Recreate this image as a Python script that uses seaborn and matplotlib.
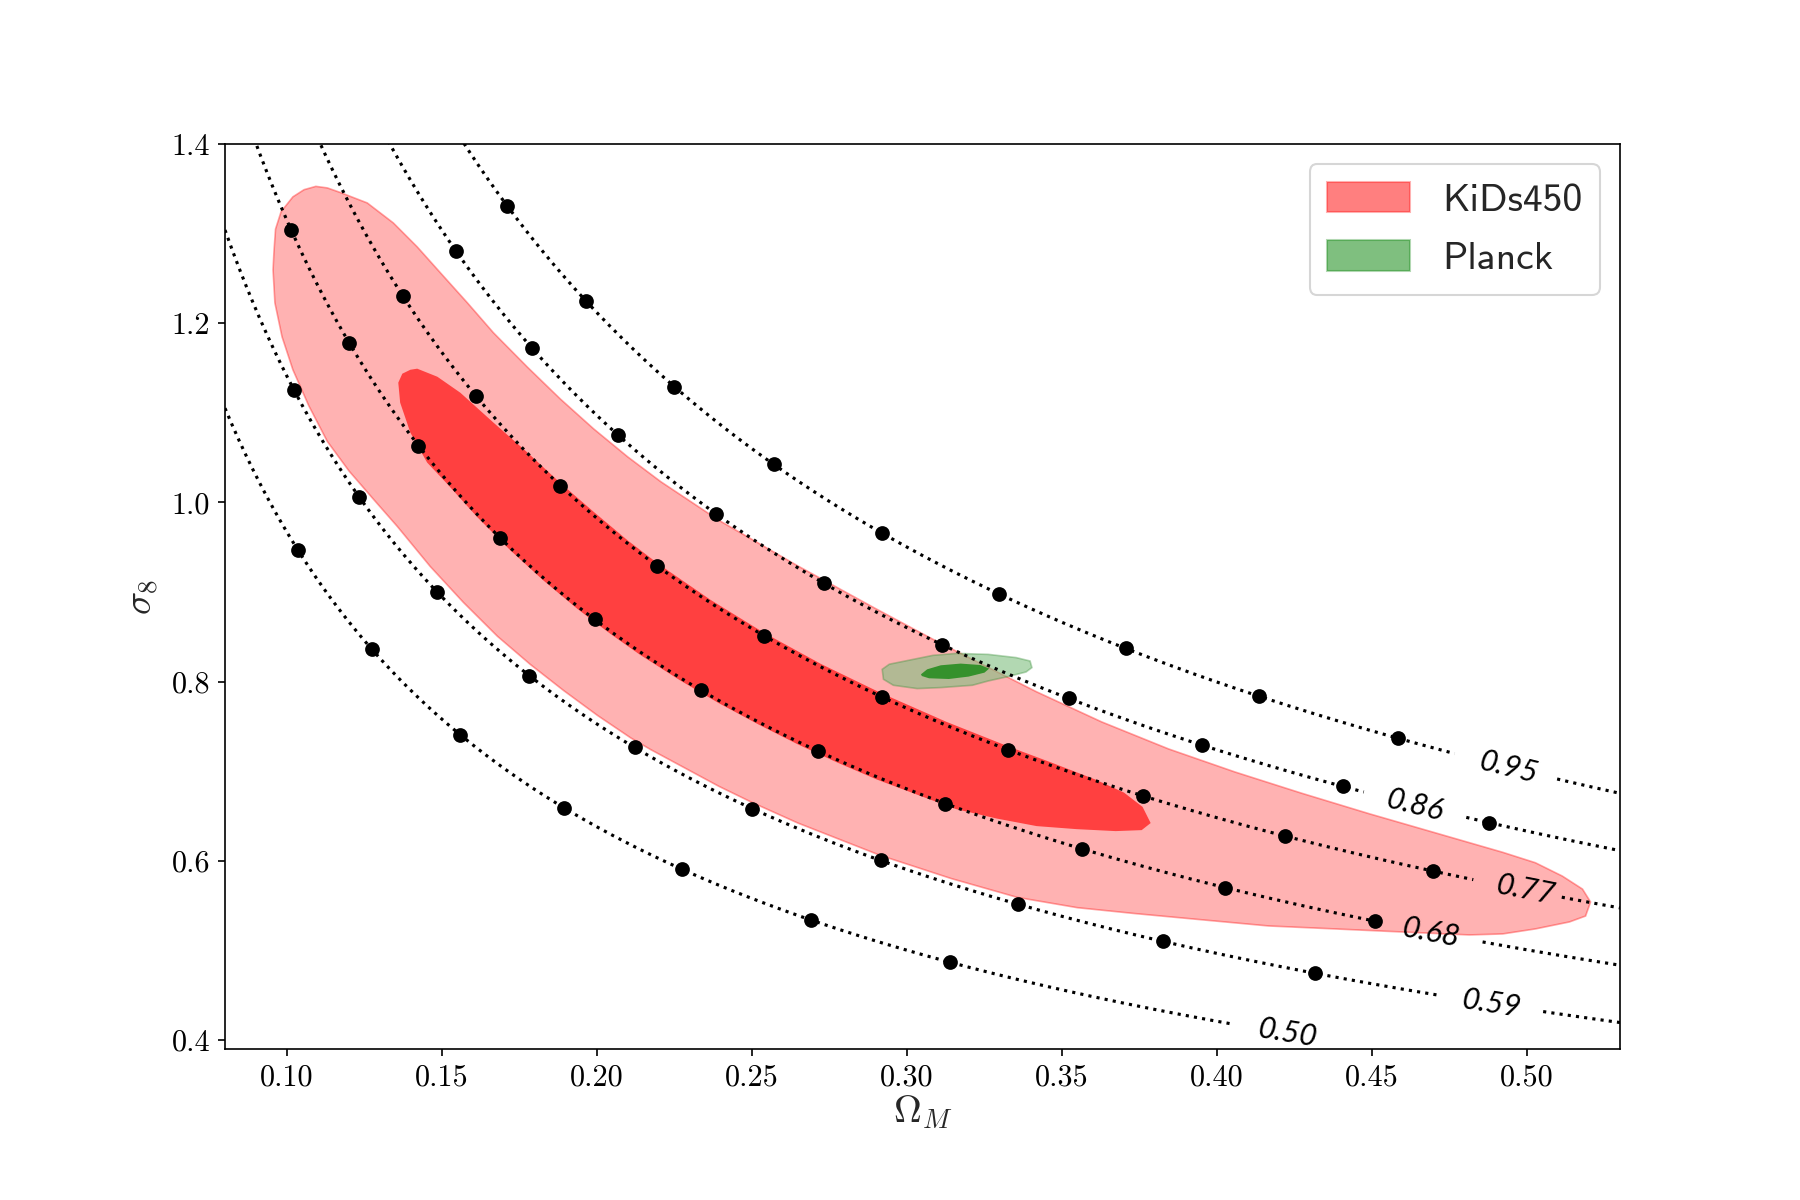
import numpy as np
import matplotlib
matplotlib.use("Agg")
import matplotlib.pyplot as plt
import seaborn as sns
from matplotlib.patches import Patch

# ---------------- data ----------------
s8_levels = [0.50, 0.59, 0.68, 0.77, 0.86, 0.95]
s8_labels = ["0.50", "0.59", "0.68", "0.77", "0.86", "0.95"]
s8_exponent = 0.6          # sigma8 = S8 * (Omega_M / 0.3) ** (-0.6)
s8_pivot = 0.3

# Omega_M positions of the black dots on each iso-S8 curve
dots_050 = [0.1035, 0.1273, 0.1559, 0.1895, 0.2273, 0.2691, 0.3140]
dots_059 = [0.1023, 0.1233, 0.1485, 0.1782, 0.2121, 0.2501, 0.2915, 0.3357, 0.3826, 0.4317]
dots_068 = [0.1013, 0.1200, 0.1424, 0.1688, 0.1992, 0.2335, 0.2714, 0.3124, 0.3564, 0.4027, 0.4509]
dots_077 = [0.1374, 0.1610, 0.1882, 0.2193, 0.2538, 0.2918, 0.3326, 0.3761, 0.4220, 0.4696]
dots_086 = [0.1544, 0.1790, 0.2069, 0.2385, 0.2733, 0.3112, 0.3521, 0.3953, 0.4406, 0.4877]
dots_095 = [0.1710, 0.1964, 0.2249, 0.2570, 0.2920, 0.3298, 0.3706, 0.4134, 0.4584]
dots_all = [dots_050, dots_059, dots_068, dots_077, dots_086, dots_095]

# inline label centre and the gap cut in each curve (Omega_M)
label_x = [0.4226, 0.4884, 0.4689, 0.4994, 0.4638, 0.4940]
gap_lo = [0.4050, 0.4721, 0.4533, 0.4829, 0.4479, 0.4774]
gap_hi = [0.4700, 0.5050, 0.4850, 0.5109, 0.4797, 0.5092]

# KiDS-450 contours (Omega_M, sigma8)
kids_outer_om = [0.0958, 0.0963, 0.0981, 0.1019, 0.1055, 0.1093, 0.1130, 0.1171, 0.1259,
                 0.1343, 0.1420, 0.1495, 0.1582, 0.1666, 0.1776, 0.1882, 0.1989, 0.2099, 0.2206,
                 0.2393, 0.2648, 0.2904, 0.3098, 0.3418, 0.3628, 0.3844, 0.4058, 0.4274, 0.4491,
                 0.4704, 0.4921, 0.5027, 0.5114, 0.5179, 0.5205,
                 0.5189, 0.5137, 0.5027, 0.4921, 0.4814, 0.4597, 0.4381, 0.4167, 0.3951, 0.3734,
                 0.3550, 0.3356, 0.3143, 0.2913, 0.2648, 0.2500, 0.2393, 0.2173, 0.2109, 0.2002,
                 0.1892, 0.1785, 0.1679, 0.1569, 0.1462, 0.1356, 0.1280, 0.1200, 0.1130, 0.1070,
                 0.1019, 0.0984, 0.0961, 0.0955]
kids_outer_s8 = [1.2800, 1.3050, 1.3245, 1.3410, 1.3490, 1.3527, 1.3510, 1.3460, 1.3342,
                 1.3119, 1.2852, 1.2562, 1.2227, 1.1893, 1.1508, 1.1153, 1.0821, 1.0508, 1.0230,
                 0.9800, 0.9290, 0.8804, 0.8445, 0.7885, 0.7549, 0.7247, 0.6990, 0.6752, 0.6524,
                 0.6311, 0.6094, 0.5977, 0.5828, 0.5683, 0.5539,
                 0.5382, 0.5316, 0.5238, 0.5182, 0.5171, 0.5204, 0.5238, 0.5271, 0.5340, 0.5410,
                 0.5475, 0.5590, 0.5800, 0.6060, 0.6420, 0.6650, 0.6830, 0.7240, 0.7370, 0.7620,
                 0.7900, 0.8190, 0.8504, 0.8883, 0.9284, 0.9730, 1.0030, 1.0350, 1.0680, 1.1080,
                 1.1480, 1.1848, 1.2227, 1.2595]
kids_inner_om = [0.1398, 0.1420, 0.1485, 0.1559, 0.1666, 0.1776, 0.1882, 0.1989, 0.2099, 0.2199,
                 0.2367, 0.2538, 0.2723, 0.2917, 0.3127, 0.3327, 0.3466, 0.3608, 0.3700, 0.3760,
                 0.3786, 0.3757, 0.3673, 0.3547, 0.3418, 0.3290, 0.3159, 0.3030, 0.2904, 0.2776,
                 0.2648, 0.2521, 0.2393, 0.2266, 0.2138, 0.2044, 0.1937, 0.1827, 0.1721, 0.1614,
                 0.1517, 0.1452, 0.1398, 0.1365, 0.1359, 0.1372]
kids_inner_s8 = [1.1480, 1.1492, 1.1402, 1.1224, 1.0890, 1.0555, 1.0215, 0.9895, 0.9575, 0.9310,
                 0.8910, 0.8545, 0.8195, 0.7870, 0.7550, 0.7275, 0.7095, 0.6905, 0.6760, 0.6600,
                 0.6420, 0.6341, 0.6330, 0.6352, 0.6386, 0.6470, 0.6575, 0.6740, 0.6904, 0.7094,
                 0.7298, 0.7520, 0.7758, 0.8017, 0.8300, 0.8530, 0.8810, 0.9128, 0.9463, 0.9834,
                 1.0205, 1.0444, 1.0778, 1.1113, 1.1336, 1.1436]

# Planck contours (Omega_M, sigma8)
planck_outer_om = [0.2920, 0.2943, 0.3020, 0.3084, 0.3160, 0.3262, 0.3352, 0.3397, 0.3403,
                   0.3384, 0.3326, 0.3262, 0.3211, 0.3109, 0.3033, 0.2956, 0.2924]
planck_outer_s8 = [0.8136, 0.8193, 0.8247, 0.8292, 0.8314, 0.8303, 0.8267, 0.8229, 0.8155,
                   0.8106, 0.8055, 0.8006, 0.7958, 0.7932, 0.7921, 0.7958, 0.8025]
planck_inner_om = [0.3045, 0.3065, 0.3109, 0.3173, 0.3237, 0.3265, 0.3250, 0.3199, 0.3135, 0.3071, 0.3048]
planck_inner_s8 = [0.8080, 0.8136, 0.8181, 0.8200, 0.8184, 0.8144, 0.8099, 0.8055, 0.8028, 0.8036, 0.8061]

legend_labels = ["KiDs450", "Planck"]

# ---------------- style ----------------
sns.set_style("ticks")
plt.rcParams["font.family"] = ["cmr10", "DejaVu Serif"]
plt.rcParams["mathtext.fontset"] = "cm"
plt.rcParams["axes.formatter.use_mathtext"] = True
plt.rcParams["axes.edgecolor"] = "black"
plt.rcParams["axes.linewidth"] = 0.8
plt.rcParams["xtick.color"] = "black"
plt.rcParams["ytick.color"] = "black"
plt.rcParams["xtick.major.width"] = 0.8
plt.rcParams["ytick.major.width"] = 0.8
plt.rcParams["xtick.major.size"] = 3.5
plt.rcParams["ytick.major.size"] = 3.5

fig, ax = plt.subplots(figsize=(12, 8), dpi=150)
fig.subplots_adjust(left=0.125, right=0.9, top=0.88, bottom=0.126)

ax.set_xlim(0.08, 0.53)
ax.set_ylim(0.39, 1.4)
ax.set_xticks([0.10, 0.15, 0.20, 0.25, 0.30, 0.35, 0.40, 0.45, 0.50])
ax.set_yticks([0.4, 0.6, 0.8, 1.0, 1.2, 1.4])
ax.set_xticklabels(["0.10", "0.15", "0.20", "0.25", "0.30", "0.35", "0.40", "0.45", "0.50"])
ax.set_yticklabels(["0.4", "0.6", "0.8", "1.0", "1.2", "1.4"])
ax.tick_params(labelsize=14.5)

# contours
ax.fill(kids_outer_om, kids_outer_s8, facecolor=(1, 0, 0, 0.30),
        edgecolor=(1, 0, 0, 0.35), linewidth=0.8, zorder=1)
ax.fill(kids_inner_om, kids_inner_s8, facecolor=(1, 0, 0, 0.64),
        edgecolor="none", zorder=1.1)
ax.fill(planck_outer_om, planck_outer_s8, facecolor=(0.5, 0.75, 0.5, 0.60),
        edgecolor=(0.2, 0.55, 0.2, 0.35), linewidth=0.8, zorder=1.2)
ax.fill(planck_inner_om, planck_inner_s8, facecolor=(0, 0.5, 0, 0.70),
        edgecolor="none", zorder=1.3)

# iso-S8 curves
om_grid = np.linspace(0.08, 0.53, 600)


def s8_curve(s, om):
    return s * (np.asarray(om) / s8_pivot) ** (-s8_exponent)


for s, lab, lx, lo, hi, dots in zip(s8_levels, s8_labels, label_x, gap_lo, gap_hi, dots_all):
    sig = s8_curve(s, om_grid)
    left = om_grid < lo
    right = om_grid > hi
    for m in (left, right):
        if m.sum() > 1:
            sns.lineplot(x=om_grid[m], y=sig[m], ax=ax, color="black", linestyle=":",
                         linewidth=1.5, sort=False, estimator=None, zorder=2)
    sns.scatterplot(x=dots, y=s8_curve(s, dots), ax=ax, color="black", s=50,
                    linewidth=0, zorder=3)
    # label rotated along the curve
    ly = float(s8_curve(s, lx))
    p1 = ax.transData.transform((lx - 0.005, float(s8_curve(s, lx - 0.005))))
    p2 = ax.transData.transform((lx + 0.005, float(s8_curve(s, lx + 0.005))))
    ang = np.degrees(np.arctan2(p2[1] - p1[1], p2[0] - p1[0]))
    ax.text(lx, ly, lab, rotation=ang, rotation_mode="anchor", ha="center", va="center",
            fontsize=14.5, fontfamily="Lato", fontstyle="italic", color="black", zorder=4)

ax.set_xlabel(r"$\Omega_M$", fontsize=18.5, labelpad=1)
ax.set_ylabel(r"$\sigma_8$", fontsize=18.5, labelpad=5)

handles = [Patch(facecolor=(1, 0, 0, 0.5), edgecolor=(1, 0, 0, 0.3)),
           Patch(facecolor=(0, 0.5, 0, 0.5), edgecolor=(0, 0.5, 0, 0.3))]
ax.legend(handles, legend_labels, loc="upper right", prop={"family": "cmss10", "size": 19},
          handlelength=2.1, handleheight=0.8, handletextpad=0.8, labelspacing=0.55,
          borderpad=0.45, frameon=True, fancybox=True, edgecolor="0.8")

fig.savefig("out.png", dpi=150)
